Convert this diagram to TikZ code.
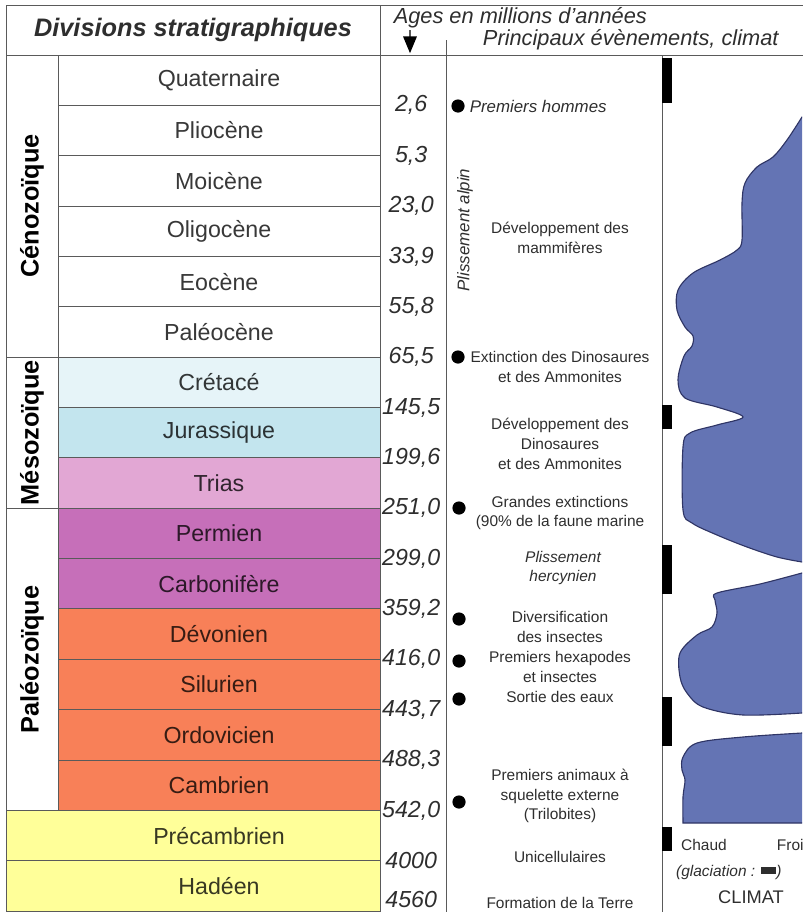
\documentclass[tikz,border=0pt]{standalone}
\usepackage{fontspec}
\setmainfont{Liberation Sans}
\definecolor{gridgray}{HTML}{5A5A5A}
\definecolor{ink}{HTML}{2E2E2E}
\definecolor{cretace}{HTML}{E6F4F8}
\definecolor{jurass}{HTML}{C3E5EE}
\definecolor{trias}{HTML}{E2A7D4}
\definecolor{permien}{HTML}{C66FB9}
\definecolor{devon}{HTML}{F88058}
\definecolor{precamb}{HTML}{FFFF99}
\definecolor{climatfill}{HTML}{6474B4}
\definecolor{climatline}{HTML}{2F3565}
\usetikzlibrary{arrows.meta}
\tikzset{
  period/.style={
    draw=gridgray, fill=#1, line width=0.7pt,
    minimum width=8.05cm, minimum height=1.259cm, inner sep=0pt,
    font=\fontsize{16.5}{18}\selectfont, text=#1!22!black
  },
  period/.default=white,
  era/.style={
    draw=gridgray, fill=white, line width=0.7pt, rotate=90,
    minimum height=1.3cm, inner sep=0pt,
    font=\bfseries\fontsize{18}{20}\selectfont
  },
  age/.style={font=\itshape\fontsize{16.5}{18}\selectfont, text=ink},
  evt/.style={font=\fontsize{11}{14}\selectfont, align=center, text=ink},
  ievt/.style={evt, font=\itshape\fontsize{12}{14}\selectfont},
  evtdot/.style={circle, fill=black, minimum size=0.33cm, inner sep=0pt},
  hdr/.style={font=\itshape\fontsize{15.5}{17}\selectfont, text=ink},
  frame/.style={draw=gridgray, line width=0.7pt},
  glac/.style={fill=black},
  climat/.style={fill=climatfill, draw=climatline, line width=0.8pt},
}
\begin{document}
\begin{tikzpicture}
    \useasboundingbox (0,0) rectangle (20.05,-22.8);

    \draw[frame] (9.5,-0.125) -- (20.3,-0.125);
    \draw[frame] (9.5,-1.375) -- (20.3,-1.375);
    \draw[frame] (11.15,-1.0) -- (11.15,-22.9);
    \draw[frame] (16.55,-1.375) -- (16.55,-22.9);

    \node[frame, minimum width=9.35cm, minimum height=1.25cm, inner sep=0pt,
      font=\bfseries\itshape\fontsize{18}{20}\selectfont, text=ink] (divs) at (4.825,-0.75)
      {Divisions stratigraphiques};
    \node[hdr, anchor=west] (ages) at (9.72,-0.45) {Ages en millions d'années};
    \node[hdr, anchor=west] (events) at (11.95,-1.0) {Principaux évènements, climat};
    \coordinate (agetip) at (10.25,-1.33);
    \draw[-{Triangle[length=0.42cm, width=0.34cm]}, line width=1pt]
      ([xshift=0.53cm, yshift=0.08cm]ages.south west) -- (agetip);

    \node[period] (quat) at (5.475,-2.005) {Quaternaire};
    \node[period] (plio) at (5.475,-3.264) {Pliocène};
    \node[period] (mio) at (5.475,-4.523) {Moicène};
    \node[period] (oligo) at (5.475,-5.782) {Oligocène};
    \node[period] (eoc) at (5.475,-7.041) {Eocène};
    \node[period] (paleoc) at (5.475,-8.300) {Paléocène};
    \node[period=cretace] (cret) at (5.475,-9.559) {Crétacé};
    \node[period=jurass] (jura) at (5.475,-10.818) {Jurassique};
    \node[period=trias] (trias) at (5.475,-12.077) {Trias};
    \node[period=permien] (perm) at (5.475,-13.336) {Permien};
    \node[period=permien] (carb) at (5.475,-14.595) {Carbonifère};
    \node[period=devon] (devo) at (5.475,-15.854) {Dévonien};
    \node[period=devon] (silu) at (5.475,-17.113) {Silurien};
    \node[period=devon] (ordo) at (5.475,-18.372) {Ordovicien};
    \node[period=devon] (camb) at (5.475,-19.631) {Cambrien};
    \node[period=precamb, minimum width=9.35cm] (precam) at (4.825,-20.890)
      {\hspace*{1.3cm}Précambrien};
    \node[period=precamb, minimum width=9.35cm] (hadeen) at (4.825,-22.149)
      {\hspace*{1.3cm}Hadéen};

    \node[era, minimum width=7.554cm] (ceno) at (0.8,-5.152) {Cénozoïque};
    \node[era, minimum width=3.777cm] (meso) at (0.8,-10.818) {Mésozoïque};
    \node[era, minimum width=7.554cm] (paleo) at (0.8,-16.483) {Paléozoïque};

    \node[age] (a1) at (10.28,-2.634) {2,6};
    \node[age] (a2) at (10.28,-3.893) {5,3};
    \node[age] (a3) at (10.28,-5.152) {23,0};
    \node[age] (a4) at (10.28,-6.411) {33,9};
    \node[age] (a5) at (10.28,-7.670) {55,8};
    \node[age] (a6) at (10.28,-8.929) {65,5};
    \node[age] (a7) at (10.28,-10.188) {145,5};
    \node[age] (a8) at (10.28,-11.447) {199,6};
    \node[age] (a9) at (10.28,-12.706) {251,0};
    \node[age] (a10) at (10.28,-13.965) {299,0};
    \node[age] (a11) at (10.28,-15.224) {359,2};
    \node[age] (a12) at (10.28,-16.483) {416,0};
    \node[age] (a13) at (10.28,-17.742) {443,7};
    \node[age] (a14) at (10.28,-19.001) {488,3};
    \node[age] (a15) at (10.28,-20.260) {542,0};
    \node[age] (a16) at (10.28,-21.519) {4000};
    \node[age] (a17) at (10.28,-22.500) {4560};

    \node[evtdot] (d1) at (11.45,-2.65) {};
    \node[ievt, anchor=west] (hommes) at (11.62,-2.65) {Premiers hommes};
    \node[ievt, rotate=90] (alpin) at (11.625,-5.75) {Plissement alpin};
    \node[evt] (mammif) at (14.0,-5.95) {Développement des\\mammifères};
    \node[evtdot] (d2) at (11.45,-8.925) {};
    \node[evt] (extdino) at (14.0,-9.175) {Extinction des Dinosaures\\et des Ammonites};
    \node[evt] (devdino) at (14.0,-11.1) {Développement des\\Dinosaures\\et des Ammonites};
    \node[evtdot] (d3) at (11.475,-12.7) {};
    \node[evt] (grandes) at (14.0,-12.825) {Grandes extinctions\\(90\% de la faune marine};
    \node[ievt, font=\itshape\fontsize{11}{14}\selectfont] (hercyn) at (14.075,-14.2) {Plissement\\hercynien};
    \node[evtdot] (d4) at (11.475,-15.475) {};
    \node[evt] (divers) at (14.0,-15.675) {Diversification\\des insectes};
    \node[evtdot] (d5) at (11.475,-16.525) {};
    \node[evt] (hexa) at (14.0,-16.675) {Premiers hexapodes\\et insectes};
    \node[evtdot] (d6) at (11.475,-17.475) {};
    \node[evt] (sortie) at (14.0,-17.425) {Sortie des eaux};
    \node[evtdot] (d7) at (11.475,-20.05) {};
    \node[evt] (trilo) at (14.0,-19.9) {Premiers animaux à\\squelette externe\\(Trilobites)};
    \node[evt] (unicel) at (14.0,-21.425) {Unicellulaires};
    \node[evt] (terre) at (14.0,-22.575) {Formation de la Terre};

    \fill[glac] (16.55,-1.45) rectangle (16.8,-2.575);
    \fill[glac] (16.55,-10.125) rectangle (16.8,-10.725);
    \fill[glac] (16.55,-13.625) rectangle (16.8,-14.85);
    \fill[glac] (16.55,-17.425) rectangle (16.8,-18.65);
    \fill[glac] (16.55,-20.675) rectangle (16.8,-21.275);

    \begin{scope}
      \clip (16.6,-1.4) rectangle (20.05,-22.8);
      \filldraw[climat] plot[smooth, tension=0.55] coordinates {
        (20.05,-2.925) (19.675,-3.5) (19.325,-3.925) (18.925,-4.175) (18.625,-4.575)
        (18.55,-5.075) (18.55,-6.0) (18.425,-6.25) (18.0,-6.5) (17.325,-6.825)
        (16.95,-7.25) (16.925,-7.75) (17.125,-8.175) (17.325,-8.4) (17.3,-8.65)
        (17.1,-8.9) (16.95,-9.5) (17.125,-9.95) (17.925,-10.175) (18.575,-10.425)
        (17.925,-10.625) (17.25,-10.825) (17.075,-11.175) (17.075,-12.75) (17.3,-13.075)
        (17.925,-13.375) (18.675,-13.675) (19.425,-13.925) (20.05,-14.05)}
        -- (20.5,-14.05) -- (20.5,-2.925) -- cycle;
      \filldraw[climat] plot[smooth, tension=0.55] coordinates {
        (20.05,-14.325) (19.0,-14.6) (17.925,-14.825) (17.875,-15.0) (17.925,-15.325)
        (17.8,-15.675) (17.425,-15.875) (17.0,-16.325) (17.0,-16.925) (17.175,-17.325)
        (17.575,-17.675) (18.575,-17.875) (20.05,-17.825)}
        -- (20.5,-17.825) -- (20.5,-14.325) -- cycle;
      \filldraw[climat] plot[smooth, tension=0.55] coordinates {
        (20.05,-18.325) (18.575,-18.425) (17.425,-18.575) (17.075,-18.925) (17.05,-19.25)
        (17.125,-19.5) (17.075,-19.925) (17.075,-20.575)}
        -- (20.5,-20.575) -- (20.5,-18.325) -- cycle;
    \end{scope}

    \node[evt] (chaud) at (17.6,-21.125) {Chaud};
    \node[evt, anchor=west] (froid) at (19.3,-21.125) {Froid};
    \node[evt, font=\itshape\fontsize{11}{14}\selectfont, anchor=west] (glacia) at (16.78,-21.8)
      {(glaciation : \rule[0.2ex]{1em}{0.5em})};
    \node[evt, font=\fontsize{13}{15}\selectfont] (climat) at (18.775,-22.425) {CLIMAT};
  \end{tikzpicture}
\end{document}
